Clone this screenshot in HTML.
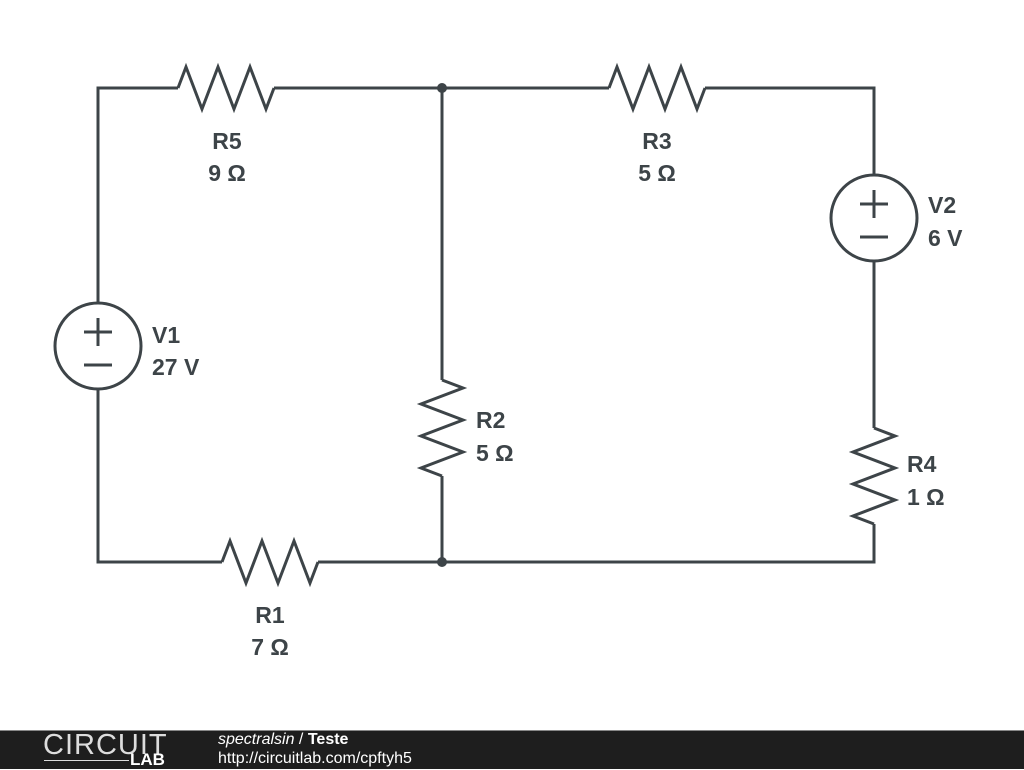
<!DOCTYPE html>
<html><head><style>
body{margin:0;width:1024px;height:768px;background:#fff;overflow:hidden;position:relative;font-family:"Liberation Sans",sans-serif}
.bar{position:absolute;left:0;top:730px;width:1024px;height:38px;background:#1e1e1e;border-top:1px solid #888}
</style></head><body>
<svg width="1024" height="730" style="position:absolute;left:0;top:0">
<g stroke="#3d4448" stroke-width="3" fill="none" stroke-linejoin="miter">
<polyline points="98,303 98,88 178,88"/>
<polyline points="274,88 609,88"/>
<polyline points="705,88 874,88 874,175"/>
<polyline points="874,261 874,428"/>
<polyline points="874,524 874,562 442,562"/>
<polyline points="442,562 318,562"/>
<polyline points="222,562 98,562 98,389"/>
<polyline points="442,88 442,380"/>
<polyline points="442,476 442,562"/>
<polyline points="178,88 186,67 202,109 218,67 234,109 250,67 266,109 274,88"/>
<polyline points="609,88 617,67 633,109 649,67 665,109 681,67 697,109 705,88"/>
<polyline points="222,562 230,541 246,583 262,541 278,583 294,541 310,583 318,562"/>
<polyline points="442,380 463,388 421,404 463,420 421,436 463,452 421,468 442,476"/>
<polyline points="874,428 895,436 853,452 895,468 853,484 895,500 853,516 874,524"/>
<circle cx="98" cy="346" r="43"/>
<line x1="84" y1="332" x2="112" y2="332"/><line x1="98" y1="318" x2="98" y2="346"/>
<line x1="84" y1="365" x2="112" y2="365"/>
<circle cx="874" cy="218" r="43"/>
<line x1="860" y1="204" x2="888" y2="204"/><line x1="874" y1="190" x2="874" y2="218"/>
<line x1="860" y1="237" x2="888" y2="237"/>
</g>
<circle cx="442" cy="88" r="5" fill="#3d4448"/>
<circle cx="442" cy="562" r="5" fill="#3d4448"/>
<g fill="#3d4448" font-family="Liberation Sans, sans-serif" font-weight="bold" font-size="23">
<text x="227" y="149" text-anchor="middle">R5</text><text x="227" y="181" text-anchor="middle">9 Ω</text>
<text x="657" y="149" text-anchor="middle">R3</text><text x="657" y="181" text-anchor="middle">5 Ω</text>
<text x="270" y="623" text-anchor="middle">R1</text><text x="270" y="655" text-anchor="middle">7 Ω</text>
<text x="476" y="428">R2</text><text x="476" y="461">5 Ω</text>
<text x="907" y="472">R4</text><text x="907" y="505">1 Ω</text>
<text x="152" y="343">V1</text><text x="152" y="375">27 V</text>
<text x="928" y="213">V2</text><text x="928" y="246">6 V</text>
</g>
</svg>
<div class="bar">
<div style="position:absolute;left:43px;top:-2px;color:#ddd;font-size:29px;letter-spacing:1px;font-weight:300">CIRCUIT</div>
<div style="position:absolute;left:44px;top:29px;width:85px;height:1px;background:#ddd"></div>
<div style="position:absolute;left:130px;top:19px;color:#fff;font-size:17px;font-weight:bold">LAB</div>
<div style="position:absolute;left:218px;top:0px;color:#fff;font-size:16px"><i>spectralsin</i> / <b>Teste</b></div>
<div style="position:absolute;left:218px;top:19px;color:#fff;font-size:16px">http://circuitlab.com/cpftyh5</div>
</div>
</body></html>
